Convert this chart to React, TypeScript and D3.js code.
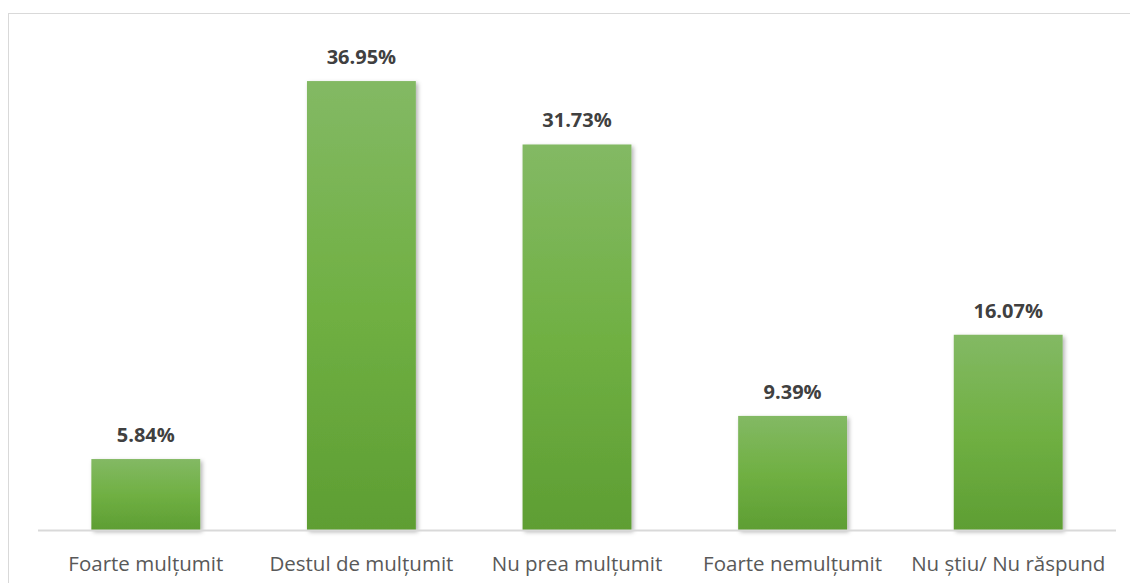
import { useEffect, useRef } from 'react';
import * as d3 from 'd3';

const categories = ['Foarte mulțumit', 'Destul de mulțumit', 'Nu prea mulțumit', 'Foarte nemulțumit', 'Nu știu/ Nu răspund'];
const values = [5.84, 36.95, 31.73, 9.39, 16.07];

const App = () => {
  const svgRef = useRef<SVGSVGElement>(null);

  useEffect(() => {
    if (!svgRef.current) return;
    d3.select(svgRef.current).selectAll('*').remove();

    const width = 1130;
    const height = 583;
    const plot = { left: 38, right: 1116, top: 44, bottom: 530 };

    const svg = d3.select(svgRef.current).attr('width', width).attr('height', height);

    const defs = svg.append('defs');
    const grad = defs
      .append('linearGradient')
      .attr('id', 'barGrad')
      .attr('x1', '0%')
      .attr('x2', '0%')
      .attr('y1', '0%')
      .attr('y2', '100%');
    grad.append('stop').attr('offset', '0%').attr('stop-color', '#83b964');
    grad.append('stop').attr('offset', '50%').attr('stop-color', '#70b043');
    grad.append('stop').attr('offset', '100%').attr('stop-color', '#5e9e33');

    const shadow = defs.append('filter').attr('id', 'shadow').attr('x', '-20%').attr('y', '-20%').attr('width', '140%').attr('height', '140%');
    shadow
      .append('feDropShadow')
      .attr('dx', 2)
      .attr('dy', 2)
      .attr('stdDeviation', 2)
      .attr('flood-color', '#000')
      .attr('flood-opacity', 0.3);

    // chart border
    svg
      .append('rect')
      .attr('x', 8.5)
      .attr('y', 13.5)
      .attr('width', 1140)
      .attr('height', 600)
      .attr('fill', '#fff')
      .attr('stroke', '#d9d9d9')
      .attr('stroke-width', 1);

    const x = d3.scaleBand().domain(categories).range([plot.left, plot.right]).paddingInner(0.495).paddingOuter(0.2475);
    const y = d3.scaleLinear().domain([0, 40]).range([plot.bottom, plot.top]);

    // bars
    svg
      .append('g')
      .selectAll('rect')
      .data(values)
      .join('rect')
      .attr('x', (_, i) => x(categories[i])!)
      .attr('y', (d) => y(d))
      .attr('width', x.bandwidth())
      .attr('height', (d) => y(0) - y(d))
      .attr('fill', 'url(#barGrad)')
      .attr('filter', 'url(#shadow)');

    // axis line
    svg
      .append('line')
      .attr('x1', plot.left)
      .attr('x2', plot.right)
      .attr('y1', plot.bottom + 0.5)
      .attr('y2', plot.bottom + 0.5)
      .attr('stroke', '#d9d9d9')
      .attr('stroke-width', 2);

    // value labels
    svg
      .append('g')
      .selectAll('text')
      .data(values)
      .join('text')
      .attr('x', (_, i) => x(categories[i])! + x.bandwidth() / 2)
      .attr('y', (d) => y(d) - 17)
      .attr('text-anchor', 'middle')
      .attr('font-family', 'Open Sans, sans-serif')
      .attr('font-size', '20px')
      .attr('font-weight', 'bold')
      .attr('fill', '#404040')
      .text((d) => `${d.toFixed(2)}%`);

    // category labels
    svg
      .append('g')
      .selectAll('text')
      .data(categories)
      .join('text')
      .attr('x', (d) => x(d)! + x.bandwidth() / 2)
      .attr('y', 570.5)
      .attr('text-anchor', 'middle')
      .attr('font-family', 'Open Sans, sans-serif')
      .attr('font-size', '20.5px')
      .attr('fill', '#595959')
      .text((d) => d);
  }, []);

  return <svg ref={svgRef} style={{ position: 'absolute', left: 0, top: 0 }} />;
};

export default App;
